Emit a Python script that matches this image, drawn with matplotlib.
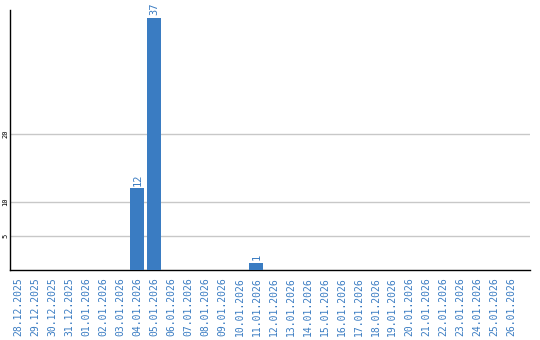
import numpy as np
import matplotlib
matplotlib.use("Agg")
import matplotlib.pyplot as plt

# dates 28.12.2025 .. 26.01.2026
dates = ["28.12.2025", "29.12.2025", "30.12.2025", "31.12.2025",
         "01.01.2026", "02.01.2026", "03.01.2026", "04.01.2026",
         "05.01.2026", "06.01.2026", "07.01.2026", "08.01.2026",
         "09.01.2026", "10.01.2026", "11.01.2026", "12.01.2026",
         "13.01.2026", "14.01.2026", "15.01.2026", "16.01.2026",
         "17.01.2026", "18.01.2026", "19.01.2026", "20.01.2026",
         "21.01.2026", "22.01.2026", "23.01.2026", "24.01.2026",
         "25.01.2026", "26.01.2026"]
counts = [0, 0, 0, 0, 0, 0, 0, 12, 37, 0, 0, 0, 0, 0, 1,
          0, 0, 0, 0, 0, 0, 0, 0, 0, 0, 0, 0, 0, 0, 0]
y_ticks = [5, 10, 20]

blue = "#3a7cc2"

fig = plt.figure(figsize=(5.4, 3.4), dpi=100)
ax = fig.add_axes([10 / 540, 70 / 340, 520 / 540, 260 / 340])

x = np.arange(len(dates))
ax.bar(x, counts, width=0.82, color=blue, zorder=3)

# value labels above non-zero bars
for xi, c in zip(x, counts):
    if c > 0:
        ax.text(xi, c + 0.4, str(c), rotation=90, ha="center", va="bottom",
                color=blue, fontsize=7.5, family="DejaVu Sans Mono")

ax.set_xlim(-0.5, 30.1)
ax.set_ylim(0, 38.2)

ax.set_yticks(y_ticks)
ax.set_yticklabels([str(t) for t in y_ticks], rotation=90, va="center",
                   fontsize=5, family="DejaVu Sans Mono")
ax.yaxis.grid(True, color="#c8c8c8", linewidth=1, zorder=0)
ax.tick_params(axis="y", length=0, pad=1)

ax.set_xticks(x)
ax.set_xticklabels(dates, rotation=90, color=blue, fontsize=7,
                   family="DejaVu Sans Mono", va="top")
ax.tick_params(axis="x", length=0, pad=5)

for s in ["top", "right"]:
    ax.spines[s].set_visible(False)
for s in ["left", "bottom"]:
    ax.spines[s].set_color("black")
    ax.spines[s].set_linewidth(1.0)

fig.savefig("out.png", dpi=100)
